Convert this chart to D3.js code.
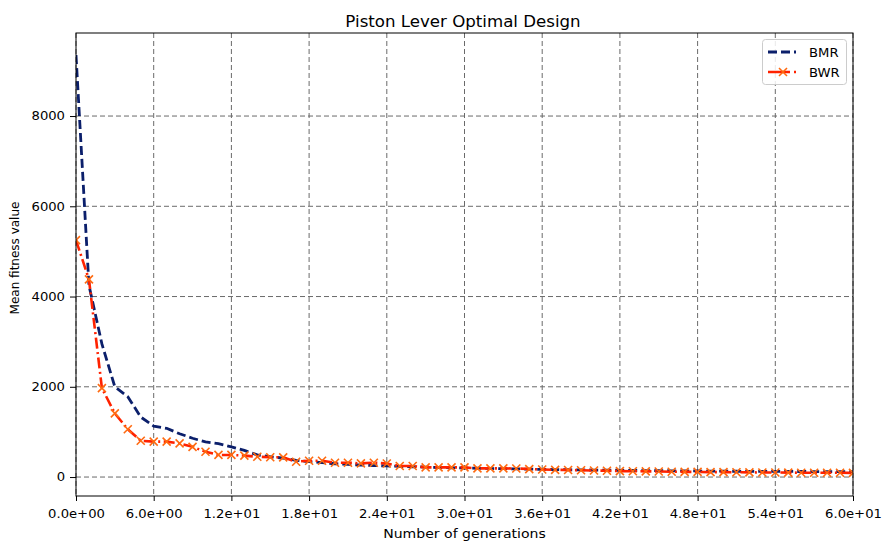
<!DOCTYPE html>
<html><head><meta charset="utf-8">
<script src="https://cdn.jsdelivr.net/npm/d3@7"></script>
<style>body{margin:0;background:#fff}svg{display:block;font-family:"DejaVu Sans",sans-serif}</style>
</head><body><svg id="c" width="884" height="545"></svg>
<script>
const generations = d3.range(0, 61);
const bmr = [9350,4250,2950,2000,1780,1330,1130,1080,960,860,
  780,740,670,590,490,450,420,370,340,320,
  295,280,266,255,246,236,228,220,212,206,
  200,195,190,186,181,175,170,166,162,158,
  155,152,149,146,143,141,138,136,134,132,
  130,128,127,126,125,124,123,122,121,120,120];
const bwr = [5250,4380,1970,1410,1060,805,785,785,745,670,
  560,490,490,475,450,440,436,340,362,362,
  318,318,303,318,300,244,244,214,214,214,
  214,192,192,192,190,177,166,160,156,150,
  145,140,132,128,126,124,118,115,114,110,
  108,105,104,101,100,98,96,95,95,94,92];
const xTicks = [0,6,12,18,24,30,36,42,48,54,60];
const yTicks = [0,2000,4000,6000,8000];
const seriesNames = ["BMR","BWR"];

const svg = d3.select("#c");
const L=76, R=853, T=33, B=496;
const x = d3.scaleLinear().domain([0,60]).range([L,R]);
const y = d3.scaleLinear().domain([-420,9840]).range([B,T]);
const FS = 12.2;

// grid
const g = svg.append("g");
g.selectAll(".vg").data(xTicks).join("line")
  .attr("x1",d=>x(d)).attr("x2",d=>x(d)).attr("y1",T).attr("y2",B)
  .attr("stroke","#6a6a6a").attr("stroke-width",1).attr("stroke-dasharray","5,3");
g.selectAll(".hg").data(yTicks).join("line")
  .attr("y1",d=>y(d)).attr("y2",d=>y(d)).attr("x1",L).attr("x2",R)
  .attr("stroke","#6a6a6a").attr("stroke-width",1).attr("stroke-dasharray","5,3");

svg.append("clipPath").attr("id","clp").append("rect")
  .attr("x",L).attr("y",T).attr("width",R-L).attr("height",B-T);

const line = d3.line().x((d,i)=>x(generations[i])).y(d=>y(d));
const plot = svg.append("g").attr("clip-path","url(#clp)");
plot.append("path").datum(bmr).attr("d",line).attr("fill","none")
  .attr("stroke","#0b1f6b").attr("stroke-width",2.8).attr("stroke-dasharray","9,4");
plot.append("path").datum(bwr).attr("d",line).attr("fill","none")
  .attr("stroke","#ff2200").attr("stroke-width",2.6).attr("stroke-dasharray","11,3.5,2,3.5");
const mk = (sel, cx, cy) => {
  const s=4;
  sel.append("path").attr("d",`M${cx-s},${cy-s}L${cx+s},${cy+s}M${cx-s},${cy+s}L${cx+s},${cy-s}`)
    .attr("stroke","#ff6a10").attr("stroke-width",1.6).attr("fill","none");
};
bwr.forEach((v,i)=>mk(plot, x(generations[i]), y(v)));

// axes
const xa = svg.append("g").attr("transform",`translate(0,${B})`)
  .call(d3.axisBottom(x).tickValues(xTicks).tickSize(5).tickPadding(8)
  .tickFormat(d=>{const s=d3.format(".1e")(d); return s.replace(/e([+-])(\d)$/,"e$10$2");}));
const ya = svg.append("g").attr("transform",`translate(${L},0)`)
  .call(d3.axisLeft(y).tickValues(yTicks).tickSize(6).tickPadding(5).tickFormat(d3.format("d")));
[xa,ya].forEach(a=>{a.selectAll("text").attr("font-size",FS).attr("fill","#000").attr("font-family","DejaVu Sans");
  a.select(".domain").remove(); a.selectAll(".tick line").attr("stroke","#000");});
svg.append("rect").attr("x",L).attr("y",T).attr("width",R-L).attr("height",B-T)
  .attr("fill","none").attr("stroke","#000").attr("stroke-width",1);

svg.append("text").attr("class","st").attr("x",463).attr("y",27).attr("text-anchor","middle")
  .attr("font-size",15.4).text("Piston Lever Optimal Design");
svg.append("text").attr("class","st").attr("x",(L+R)/2).attr("y",538).attr("text-anchor","middle")
  .attr("font-size",13).text("Number of generations");
svg.append("text").attr("transform",`translate(18.5,258) rotate(-90)`).attr("text-anchor","middle")
  .attr("font-size",12).text("Mean fitness value");

// legend
const lg = svg.append("g");
lg.append("rect").attr("x",762.5).attr("y",39.5).attr("width",84).attr("height",45).attr("rx",3)
  .attr("fill","#fff").attr("fill-opacity",0.85).attr("stroke","#ccc");
lg.append("line").attr("x1",768).attr("x2",796).attr("y1",52).attr("y2",52)
  .attr("stroke","#0b1f6b").attr("stroke-width",2.8).attr("stroke-dasharray","9,4");
lg.append("line").attr("x1",768).attr("x2",798).attr("y1",72).attr("y2",72)
  .attr("stroke","#ff2200").attr("stroke-width",2.6).attr("stroke-dasharray","22,4,2,4");
mk(lg,783,72);
lg.append("text").attr("class","st").attr("x",809).attr("y",56.7).attr("font-size",FS).text(seriesNames[0]);
lg.append("text").attr("class","st").attr("x",809).attr("y",76.7).attr("font-size",FS).text(seriesNames[1]);

// slight horizontal stretch of horizontal texts, as in the reference
xa.selectAll("text").attr("class","st"); ya.selectAll("text").attr("class","st");
svg.selectAll("text.st").each(function(){
  const len = this.getComputedTextLength();
  d3.select(this).attr("textLength", len*1.08).attr("lengthAdjust","spacingAndGlyphs");
});
</script></body></html>
